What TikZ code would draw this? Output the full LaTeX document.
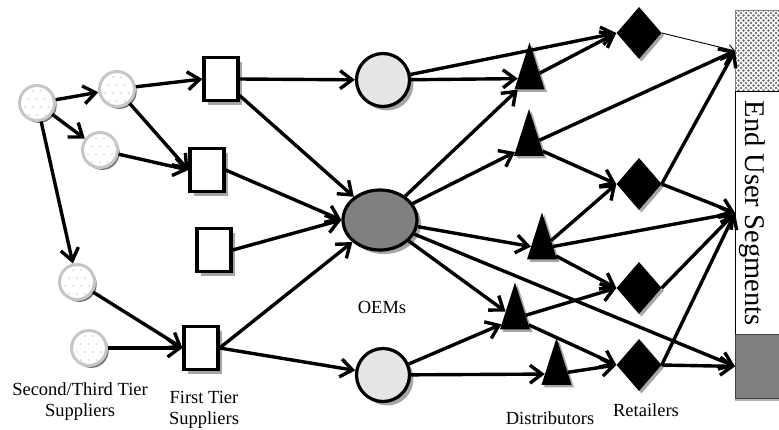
\documentclass[tikz,border=0pt]{standalone}
\usepackage{fontspec}
\setmainfont{Liberation Serif}
\usetikzlibrary{arrows.meta,shapes.geometric,shadows,patterns}

% stipple used for the first end-user segment
\pgfdeclarepatternformonly{stipple}{\pgfqpoint{-1pt}{-1pt}}{\pgfqpoint{6pt}{6pt}}{\pgfqpoint{5pt}{5pt}}{%
  \pgfpathcircle{\pgfqpoint{1pt}{1pt}}{1.3pt}%
  \pgfpathcircle{\pgfqpoint{3.5pt}{3.5pt}}{1.3pt}%
  \pgfusepath{fill}}

\tikzset{
  link/.style={line width=3.4pt, -{Straight Barb[length=12pt,width=18pt]}},
  thinlink/.style={line width=0.9pt, -{Straight Barb[length=6pt,width=9pt]}},
  shade/.style={drop shadow={shadow xshift=4pt, shadow yshift=-4pt, fill=gray!70, opacity=1}},
  supplier/.style={circle, minimum size=35pt, inner sep=0pt, fill=white,
    draw=gray!45, line width=3pt,
    drop shadow={shadow xshift=2.2pt, shadow yshift=-2.4pt, fill=gray!90!black, opacity=1},
    path picture={
      \foreach \dx/\dy in {-8/-12,0/-12,8/-12,
                           -12/-4,-4/-4,4/-4,12/-4,
                           -8/4,0/4,8/4,
                           -12/12,-4/12,4/12,12/12,
                           -16/4,16/4,-16/-12,16/-12}
        \fill[gray!40] ([shift={(\dx pt,\dy pt)}]path picture bounding box.center) circle (0.8pt);
    }},
  tier/.style={rectangle, draw=black, line width=3.2pt, fill=white, inner sep=0pt,
    minimum width=34pt, minimum height=43pt, shade},
  oem/.style={circle, draw=black, line width=3.2pt, fill=black!10, inner sep=0pt,
    minimum size=53pt, shade},
  bigoem/.style={ellipse, draw=black, line width=3.2pt, fill=black!50, inner sep=0pt,
    minimum width=74pt, minimum height=60pt, shade},
  dist/.style={isosceles triangle, isosceles triangle stretches, shape border rotate=90,
    minimum width=30pt, minimum height=47pt, inner sep=0pt, fill=black,
    drop shadow={shadow xshift=2.5pt, shadow yshift=-2.5pt, fill=gray!70, opacity=1}},
  retail/.style={diamond, minimum width=45pt, minimum height=52pt, inner sep=0pt, fill=black,
    drop shadow={shadow xshift=2.5pt, shadow yshift=-2.5pt, fill=gray!70, opacity=1}},
  lbl/.style={font=\fontsize{18.5}{21}\selectfont, align=center, inner sep=0pt}
}

\begin{document}
\begin{tikzpicture}[x=1pt,y=-1pt]
\useasboundingbox (0,0) rectangle (779,429);

% end-user segments column
\node[rectangle, anchor=north west, inner sep=0pt, minimum width=50pt, minimum height=81pt,
      fill=white, pattern=stipple, pattern color=black!55, draw=gray, line width=0.7pt] (utop) at (735,10) {};
\node[rectangle, anchor=north west, inner sep=0pt, minimum width=50pt, minimum height=243pt,
      fill=white, draw=black, line width=0.8pt] (umid) at (735,91) {};
\node[rectangle, anchor=north west, inner sep=0pt, minimum width=50pt, minimum height=64pt,
      fill=black!50, draw=black!75, line width=0.8pt,
      drop shadow={shadow xshift=0pt, shadow yshift=-2.5pt, fill=gray!60, opacity=1}] (ugray) at (735,334) {};
\node[rotate=-90, font=\fontsize{28.5}{30}\selectfont, inner sep=0pt] (useg) at (752,213) {End User Segments};

% second / third tier suppliers
\node[supplier] (s1) at (37,103) {};
\node[supplier] (s2) at (117,89) {};
\node[supplier] (s3) at (100,150) {};
\node[supplier] (s4) at (77,282) {};
\node[supplier] (s5) at (89,348) {};

% first tier suppliers
\node[tier] (f1) at (221,79) {};
\node[tier] (f2) at (207,170) {};
\node[tier] (f3) at (214,250) {};
\node[tier] (f4) at (201,348) {};

% OEMs
\node[oem] (o1) at (383,80) {};
\node[bigoem] (o2) at (380,220) {};
\node[oem] (o3) at (383,375) {};

% distributors
\node[dist] (d1) at (529.5,78.5) {};
\node[dist] (d2) at (529,145) {};
\node[dist] (d3) at (542,248.5) {};
\node[dist] (d4) at (515,318.5) {};
\node[dist] (d5) at (556.5,374) {};

% retailers
\node[retail] (r1) at (639,33) {};
\node[retail] (r2) at (639,184) {};
\node[retail] (r3) at (639,288) {};
\node[retail] (r4) at (639,365) {};

% labels
\node[lbl] (tsec) at (80,402) {Second/Third Tier\\Suppliers};
\node[lbl] (tfirst) at (204,410) {First Tier\\Suppliers};
\node[lbl] (toem) at (382,307) {OEMs};
\node[lbl] (tdist) at (550,418) {Distributors};
\node[lbl] (tret) at (646,410) {Retailers};

% supplier links
\draw[link] (s1) -- (s2);
\draw[link] (s1) -- (s3);
\draw[link] (s1) -- (s4);
\draw[link] (s2) -- (f1.west);
\draw[link] (s2) -- (f2.west);
\draw[link] (s3) -- (f2.west);
\draw[link] (s4) -- (f4.west);
\draw[link] (s5) -- (f4.west);

% first tier to OEMs
\draw[link] (f1.east) -- (o1);
\draw[link] (f1) -- (o2);
\draw[link] (f2.east) -- (o2.west);
\draw[link] (f3.east) -- (o2.west);
\draw[link] (f4.east) -- (o2);
\draw[link] (f4.east) -- (o3);

% OEMs to distribution
\draw[link] (o1) -- (d1);
\draw[link] (o1) -- (r1.west);
\draw[link] (o2) -- (d1);
\draw[link] (o2) -- (d2);
\draw[link] (o2) -- (d3);
\draw[link] (o2) -- (d4);
\draw[link] (o2) -- (ugray.west);
\draw[link] (o3) -- (d4);
\draw[link] (o3) -- (d5);

% distributors
\draw[link] (d1) -- (r1.west);
\draw[link] (d2) -- (r2.west);
\draw[link] (d2) -- (utop.west);
\draw[link] (d3) -- (r2.west);
\draw[link] (d3) -- (umid.west);
\draw[link] (d3) -- (r3.west);
\draw[link] (d4) -- (r3.west);
\draw[link] (d4) -- (r4.west);
\draw[link] (d5) -- (r4.west);

% retailers to end users
\draw[thinlink] (r1.east) -- (utop.west);
\draw[link] (r2.east) -- (utop.west);
\draw[link] (r2.east) -- (umid.west);
\draw[link] (r3.east) -- (umid.west);
\draw[link] (r4.east) -- (umid.west);
\draw[link] (r4.east) -- (ugray.west);
\end{tikzpicture}
\end{document}
